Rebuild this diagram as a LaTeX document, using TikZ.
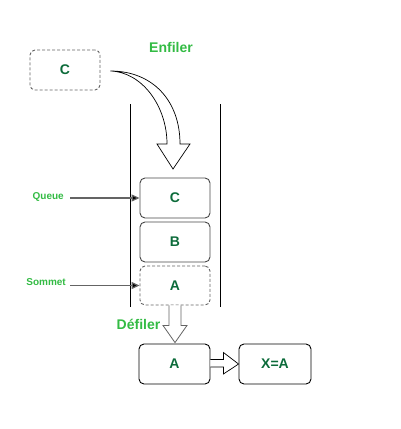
\documentclass[tikz,border=0pt]{standalone}
\usepackage{fontspec}
\setmainfont{Liberation Sans}
\usetikzlibrary{arrows.meta,calc}
\definecolor{lgreen}{RGB}{51,187,68}
\definecolor{dgreen}{RGB}{12,107,58}
\definecolor{bordergray}{RGB}{70,70,70}
\definecolor{dashgray}{RGB}{100,100,100}
\tikzset{
  elem/.style={draw=bordergray, line width=0.9pt, rounded corners=5pt, minimum width=70pt, minimum height=40pt, inner sep=0pt, text=dgreen, font=\fontsize{14}{16}\selectfont\bfseries},
  ghost/.style={elem, draw=dashgray, dash pattern=on 3pt off 2pt},
  outbox/.style={elem, draw=black},
  biglabel/.style={text=lgreen, font=\fontsize{14}{16}\selectfont\bfseries, inner sep=0pt},
  smalllabel/.style={text=lgreen, font=\fontsize{10}{12}\selectfont\bfseries, inner sep=0pt},
  pointer/.style={draw=dashgray, line width=1.2pt, -{Triangle[length=8pt,width=7pt,fill=black]}},
  wall/.style={draw=black, line width=0.9pt},
  hollow/.style={draw=black, line width=0.7pt, fill=white, line join=miter}
}
\begin{document}
\begin{tikzpicture}[x=1pt,y=-1pt]
\useasboundingbox (0,0) rectangle (400,429);
% walls of the queue
\draw[wall] (130,104) -- (130,307);
\draw[wall] (220,104) -- (220,307);
% nodes
\node[ghost] (newC) at (65,70) {C};
\node[elem] (qC) at (175,198) {C};
\node[elem] (qB) at (175,242) {B};
\node[ghost, minimum height=39pt] (qA) at (175,285.5) {A};
\node[outbox, minimum width=71pt] (outA) at (174.5,364) {A};
\node[outbox, minimum width=72pt] (outX) at (275,364) {X=A};
% labels
\node[biglabel] (enfiler) at (171,47) {Enfiler};
\node[biglabel] (defiler) at (138.5,324.5) {Défiler};
\node[smalllabel, anchor=east] (queue) at (64,197) {Queue};
\node[smalllabel, anchor=east] (sommet) at (66,282) {Sommet};
% pointers
\draw[pointer] ($(qC.west -| queue.east)+(6,0)$) -- (qC.west);
\draw[pointer] ($(qA.west -| sommet.east)+(4,0)$) -- (qA.west);
% curved hollow arrow (Enfiler)
\coordinate (cs) at ($(newC.east)+(10,1)$);
\draw[hollow] (cs) .. controls (152,71) and (180,100) .. (180,144)
  -- (190,144) -- (173,169) -- (157,144) -- (167,144)
  .. controls (167,106) and (142,72) .. (cs) -- cycle;
% down hollow arrow (Défiler)
\draw[draw=dashgray, line width=0.8pt, fill=white, line join=miter]
  ($(qA.south)+(-6,0)$) -- ++(0,20) -- ++(-6,0) -- ($(outA.north)+(0.5,-1)$)
  -- ($(qA.south)+(12,20)$) -- ++(-6,0) -- ($(qA.south)+(6,0)$);
% right hollow arrow
\draw[hollow] ($(outA.east)+(0,-4.5)$) -- ++(13,0) -- ++(0,-7) -- (outX.west)
  -- ($(outA.east)+(13,10)$) -- ++(0,-7) -- ($(outA.east)+(0,3)$);
\end{tikzpicture}
\end{document}
